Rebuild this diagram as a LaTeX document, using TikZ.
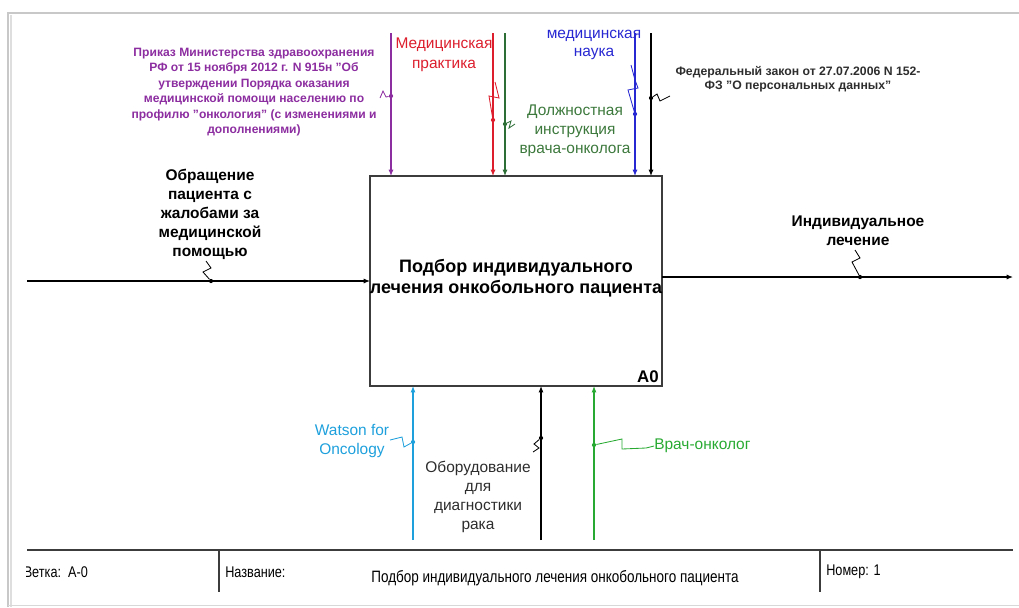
\documentclass[tikz,border=0pt]{standalone}
\usepackage{fontspec}
\setmainfont{Liberation Sans}
\newfontfamily\narrowfont[FakeStretch=0.82]{Liberation Sans}
\usetikzlibrary{arrows.meta}
\definecolor{cpurple}{RGB}{140,45,160}
\definecolor{cred}{RGB}{220,30,45}
\definecolor{cdkgreen}{RGB}{45,110,55}
\definecolor{cdkgreentext}{RGB}{60,120,60}
\definecolor{cblue}{RGB}{40,40,210}
\definecolor{ccyan}{RGB}{30,160,220}
\definecolor{cgreen}{RGB}{40,170,50}
\definecolor{cgraytext}{RGB}{45,45,45}
\definecolor{cframe}{RGB}{200,200,200}
\definecolor{cbox}{RGB}{60,60,60}
\begin{document}
\begin{tikzpicture}[x=0.025cm,y=-0.025cm,
  arrowline/.style={line width=0.8pt,-{Latex[length=4.5pt,width=3.6pt]}},
  squig/.style={line width=0.6pt},
  dotn/.style={circle,fill,inner sep=0pt,minimum size=3pt},
  lblbig/.style={align=center,inner sep=0pt,font=\fontsize{11}{13.5}\selectfont},
  lblbold/.style={align=center,inner sep=0pt,font=\fontsize{11}{13.5}\selectfont\bfseries},
  lblsmall/.style={align=center,inner sep=0pt,font=\fontsize{8.3}{11}\selectfont\bfseries},
  foot/.style={inner sep=0pt,anchor=west,font=\narrowfont\fontsize{11}{12}\selectfont}
]
\useasboundingbox (0,0) rectangle (1019,607);
% page frame
\draw[cframe!60,line width=2pt] (11,607) -- (11,15);
\draw[cframe,line width=0.9pt] (8,607) -- (8,13) -- (1019,13);
\draw[cframe!70,line width=0.6pt] (8,605) -- (1019,605);
% footer
\draw[cbox,line width=1.1pt] (27,550) -- (1013,550);
\draw[cbox,line width=0.9pt] (219,550) -- (219,592);
\draw[cbox,line width=0.9pt] (820,550) -- (820,592);
\begin{scope}
  \clip (26,555) rectangle (210,590);
  \node[foot] (fbranch) at (23.5,572) {Ветка:\ \ A-0};
\end{scope}
\node[foot] (fname) at (225,572) {Название:};
\node[foot,anchor=center,font=\narrowfont\fontsize{11.7}{13}\selectfont] (ftitle) at (555,578) {Подбор индивидуального лечения онкобольного пациента};
\node[foot] (fnum) at (826,572) {Номер: 1};

% main box
\node[draw=cbox,line width=1.1pt,minimum width=7.3cm,minimum height=5.25cm,inner sep=0pt,outer sep=0pt,anchor=north west] (box) at (370,176) {};
\node[align=center,inner sep=0pt,font=\fontsize{12.8}{15}\selectfont\bfseries] (boxtext) at (516,278) {Подбор индивидуального\\лечения онкобольного пациента};
\node[anchor=south east,inner sep=0pt,font=\fontsize{12}{14}\selectfont\bfseries] (boxid) at (659,383) {A0};

% input
\coordinate (inS) at (27,281);
\draw[arrowline] (inS) -- (inS -| box.west);
\node[lblbold] (inL) at (210,214) {Обращение\\пациента с\\жалобами за\\медицинской\\помощью};
\node[dotn] (inD) at (211,281) {};
\draw[squig] (206,261) -- (211,268) -- (203,272) -- (inD);

% output
\coordinate (outE) at (1013,277);
\draw[arrowline] (outE -| box.east) -- (outE);
\node[lblbold] (outL) at (858,231) {Индивидуальное\\лечение};
\node[dotn] (outD) at (860,277) {};
\draw[squig] (855,250) -- (860,258) -- (852,262) -- (outD);

% controls
\coordinate (c1) at (391,33);
\draw[arrowline,cpurple] (c1) -- (c1 |- box.north);
\node[lblsmall,text=cpurple,font=\fontsize{8.6}{11}\selectfont\bfseries] (c1L) at (254,92) {Приказ Министерства здравоохранения\\РФ от 15 ноября 2012 г. N 915н "Об\\утверждении Порядка оказания\\медицинской помощи населению по\\профилю "онкология" (с изменениями и\\дополнениями)};
\node[dotn,cpurple] (c1D) at (391,96) {};
\draw[squig,cpurple] (380,98) -- (383,91) -- (386,97) -- (c1D);

\coordinate (c2) at (493,33);
\draw[arrowline,cred] (c2) -- (c2 |- box.north);
\node[lblbig,text=cred,font=\fontsize{11}{14}\selectfont] (c2L) at (444,55) {Медицинская\\практика};
\node[dotn,cred] (c2D) at (493,120) {};
\draw[squig,cred] (495,82) -- (499,98) -- (489,96) -- (c2D);

\coordinate (c3) at (505,33);
\draw[arrowline,cdkgreen] (c3) -- (c3 |- box.north);
\node[lblbig,text=cdkgreentext] (c3L) at (575,131) {Должностная\\инструкция\\врача-онколога};
\node[dotn,cdkgreen] (c3D) at (505,124) {};
\draw[squig,cdkgreen] (c3D) -- (511,121) -- (509,128) -- (515,124);

\coordinate (c4) at (635,33);
\draw[arrowline,cblue] (c4) -- (c4 |- box.north);
\node[lblbig,text=cblue,font=\fontsize{11}{13}\selectfont] (c4L) at (594,45) {медицинская\\наука};
\node[dotn,cblue] (c4D) at (635,114) {};
\draw[squig,cblue] (631,65) -- (635,80) -- (638,88) -- (628,90) -- (c4D);

\coordinate (c5) at (651,33);
\draw[arrowline] (c5) -- (c5 |- box.north);
\node[lblsmall,font=\fontsize{8.7}{10}\selectfont\bfseries,text=cgraytext] (c5L) at (798,79) {Федеральный закон от 27.07.2006 N 152-\\ФЗ "О персональных данных"};
\node[dotn] (c5D) at (651,98) {};
\draw[squig] (c5D) -- (657,94) -- (660,101) -- (670,96);

% mechanisms
\coordinate (m1) at (413,540);
\draw[arrowline,ccyan] (m1) -- (m1 |- box.south);
\node[lblbig,text=ccyan] (m1L) at (352,441) {Watson for\\Oncology};
\node[dotn,ccyan] (m1D) at (413,442) {};
\draw[squig,ccyan] (390,440) -- (402,437) -- (404,447) -- (m1D);

\coordinate (m2) at (541,540);
\draw[arrowline] (m2) -- (m2 |- box.south);
\node[lblbig,text=cgraytext,font=\fontsize{11}{13.7}\selectfont] (m2L) at (478,497) {Оборудование\\для\\диагностики\\рака};
\node[dotn] (m2D) at (541,438) {};
\draw[squig] (m2D) -- (534,444) -- (539,448) -- (533,452);

\coordinate (m3) at (594,540);
\draw[arrowline,cgreen] (m3) -- (m3 |- box.south);
\node[lblbig,text=cgreen,anchor=west] (m3L) at (654,446) {Врач-онколог};
\node[dotn,cgreen] (m3D) at (594,445) {};
\draw[squig,cgreen] (m3D) -- (622,439) -- (622,449) -- (646,448) -- (m3L.west);
\end{tikzpicture}
\end{document}
